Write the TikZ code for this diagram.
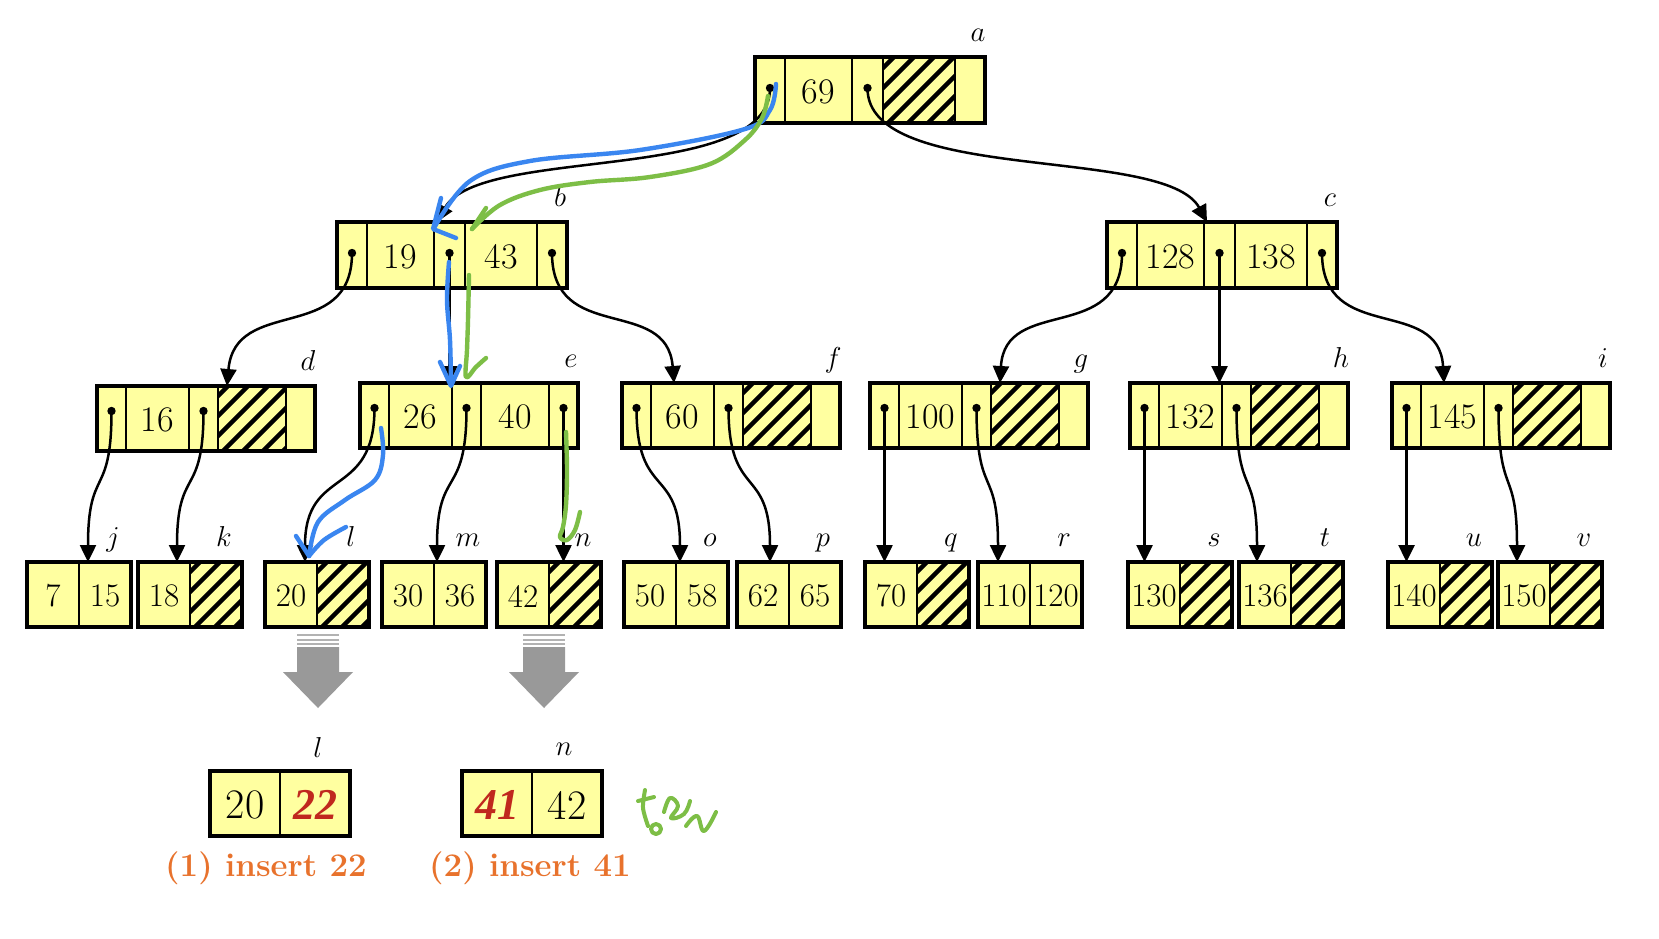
\documentclass[tikz,border=0pt]{standalone}
\usepackage{fontspec}
\newfontfamily\redfont{Liberation Serif}
\usetikzlibrary{arrows.meta}
\definecolor{nodefill}{HTML}{FFFFA0}
\definecolor{annblue}{HTML}{3A86F0}
\definecolor{anngreen}{HTML}{7DBE46}
\definecolor{insorange}{HTML}{E8722C}
\definecolor{insred}{HTML}{C0281E}
\definecolor{arrgray}{HTML}{999999}
\tikzset{
  frame/.style={draw=black, line width=2pt, inner sep=0pt, outer sep=0pt, anchor=north west},
  divline/.style={line width=1.1pt},
  hatchline/.style={line width=2.2pt},
  keytext/.style={inner sep=0pt, font=\fontsize{18}{20}\selectfont},
  leaftext/.style={inner sep=0pt, font=\fontsize{16.5}{18}\selectfont},
  bigtext/.style={inner sep=0pt, font=\fontsize{21}{23}\selectfont},
  redtext/.style={inner sep=0pt, text=insred, font=\redfont\bfseries\itshape\fontsize{22}{24}\selectfont},
  lbl/.style={inner sep=0pt, font=\fontsize{15.5}{17}\selectfont},
  conn/.style={line width=1.25pt, -{Triangle[length=8.5pt,width=8pt]}},
  ann/.style={line width=2.2pt, line cap=round, line join=round},
  caption/.style={inner sep=0pt, text=insorange, font=\bfseries\fontsize{16.5}{18}\selectfont},
}
\newcommand\hatchcell[4]{%
  \begin{scope}
    \clip (#1,#2) rectangle (#3,#4);
    \foreach \kk in {-80,-60,...,100} {\draw[hatchline] ({#1+(\kk)},{#4+5}) -- ({#1+(\kk)+95},{#4-90});}
  \end{scope}}
\newcommand\inode[6]{%
  \fill[nodefill] (#2,#3) rectangle ({#2+\bW},{#3+\bH});
  \ifnum#6=1 \hatchcell{#2+\bC}{#3}{#2+\bD}{#3+\bH}\fi
  \foreach \cc in {\bA,\bB,\bC,\bD} {\draw[divline] ({#2+\cc},#3) -- ({#2+\cc},{#3+\bH});}
  \node[frame, minimum width={\bW*0.5pt}, minimum height={\bH*0.5pt}] (#1) at (#2,#3) {};
  \node[keytext] at ({#2+(\bA+\bB)/2},{#3+\bH/2+1.5}) {#4};
  \node[keytext] at ({#2+(\bC+\bD)/2},{#3+\bH/2+1.5}) {#5};
  \coordinate (#1-p0) at ({#2+\bA/2},{#3+\dotdy});
  \coordinate (#1-p1) at ({#2+(\bB+\bC)/2},{#3+\dotdy});
  \coordinate (#1-p2) at ({#2+(\bD+\bW)/2},{#3+\dotdy});
  \fill (#1-p0) circle (2.1pt);
  \fill (#1-p1) circle (2.1pt);
  \ifnum#6=0 \fill (#1-p2) circle (2.1pt);\fi
  \node[lbl, anchor=base] (#1-lbl) at ({#2+\bW-7},{#3-16}) {$#1$};
}
\newcommand\leaf[5]{%
  \fill[nodefill] (#2,562) rectangle ({#2+104},627);
  \ifnum#5=1 \hatchcell{#2+52}{562}{#2+104}{627}\fi
  \draw[divline] ({#2+52},562) -- ({#2+52},627);
  \node[frame, line width=1.6pt, minimum width=52pt, minimum height=32.5pt] (#1) at (#2,562) {};
  \node[leaftext] at ({#2+26},596) {#3};
  \node[leaftext] at ({#2+78},596) {#4};
  \node[lbl, anchor=base] (#1-lbl) at ({#2+86},546) {$#1$};
}
\begin{document}
\begin{tikzpicture}[x=0.5pt,y=-0.5pt]
\fill[white] (0,0) rectangle (1659,938);
\useasboundingbox (0,0) rectangle (1659,938);
% level 1-2 internal nodes
\def\bA{30}\def\bB{97}\def\bC{128}\def\bD{200}\def\bW{230}\def\bH{66}\def\dotdy{31}
\inode{a}{755}{57}{69}{}{1}
\inode{b}{337}{222}{19}{43}{0}
\inode{c}{1107}{222}{128}{138}{0}
% level 3 internal nodes
\def\bA{29}\def\bB{92}\def\bC{121}\def\bD{189}\def\bW{218}\def\bH{65}\def\dotdy{25}
\inode{d}{97}{386}{16}{}{1}
\inode{e}{360}{383}{26}{40}{0}
\inode{f}{622}{383}{60}{}{1}
\inode{g}{870}{383}{100}{}{1}
\inode{h}{1130}{383}{132}{}{1}
\inode{i}{1392}{383}{145}{}{1}
% leaves
\leaf{j}{27}{7}{15}{0}
\leaf{k}{138}{18}{}{1}
\leaf{l}{265}{20}{}{1}
\leaf{m}{382}{30}{36}{0}
\leaf{n}{497}{42}{}{1}
\leaf{o}{624}{50}{58}{0}
\leaf{p}{737}{62}{65}{0}
\leaf{q}{865}{70}{}{1}
\leaf{r}{978}{110}{120}{0}
\leaf{s}{1128}{130}{}{1}
\leaf{t}{1239}{136}{}{1}
\leaf{u}{1388}{140}{}{1}
\leaf{v}{1498}{150}{}{1}
% entry points
\path (b.north west) ++(100,0) coordinate (b-in);
\path (c.north west) ++(100,0) coordinate (c-in);
\path (d.north west) ++(130,0) coordinate (d-in);
\path (f.north west) ++(52,0) coordinate (f-in);
\path (g.north west) ++(130,0) coordinate (g-in);
\path (i.north west) ++(52,0) coordinate (i-in);
\path (j.north west) ++(61,0) coordinate (j-in);
\path (k.north west) ++(39,0) coordinate (k-in);
\path (l.north west) ++(40,0) coordinate (l-in);
\path (m.north west) ++(55,0) coordinate (m-in);
\path (o.north west) ++(56,0) coordinate (o-in);
\path (p.north west) ++(33,0) coordinate (p-in);
\path (r.north west) ++(20,0) coordinate (r-in);
\path (t.north west) ++(18,0) coordinate (t-in);
\path (v.north west) ++(19,0) coordinate (v-in);
% connectors
\draw[conn] (a-p0) .. controls (770,185) and (480,145) .. (b-in);
\draw[conn] (a-p1) .. controls (867,185) and (1165,145) .. (c-in);
\draw[conn] (b-p0) .. controls (352,345) and (235,295) .. (d-in);
\draw[conn] (b-p1) -- (b-p1 |- e.north);
\draw[conn] (b-p2) .. controls (552,345) and (667,295) .. (f-in);
\draw[conn] (c-p0) .. controls (1122,345) and (1005,295) .. (g-in);
\draw[conn] (c-p1) -- (c-p1 |- h.north);
\draw[conn] (c-p2) .. controls (1322,345) and (1439,295) .. (i-in);
\draw[conn] (d-p0) .. controls (111.5,500) and (88,465) .. (j-in);
\draw[conn] (d-p1) .. controls (203.5,500) and (177,465) .. (k-in);
\draw[conn] (e-p0) .. controls (374.5,500) and (305,465) .. (l-in);
\draw[conn] (e-p1) .. controls (466.5,500) and (437,465) .. (m-in);
\draw[conn] (e-p2) -- (e-p2 |- n.north);
\draw[conn] (f-p0) .. controls (636.5,500) and (680,465) .. (o-in);
\draw[conn] (f-p1) .. controls (728.5,500) and (770,465) .. (p-in);
\draw[conn] (g-p0) -- (g-p0 |- q.north);
\draw[conn] (g-p1) .. controls (976.5,500) and (998,465) .. (r-in);
\draw[conn] (h-p0) -- (h-p0 |- s.north);
\draw[conn] (h-p1) .. controls (1236.5,500) and (1257,465) .. (t-in);
\draw[conn] (i-p0) -- (i-p0 |- u.north);
\draw[conn] (i-p1) .. controls (1498.5,500) and (1517,465) .. (v-in);
% gray arrows
\foreach \cx in {318,544} {
  \fill[arrgray!75] ({\cx-21},634) rectangle ({\cx+21},636);
  \fill[arrgray!75] ({\cx-21},638.5) rectangle ({\cx+21},640.5);
  \fill[arrgray!75] ({\cx-21},643) rectangle ({\cx+21},645);
  \fill[arrgray] ({\cx-21},647) -- ({\cx+21},647) -- ({\cx+21},672) -- ({\cx+35},672)
     -- (\cx,708) -- ({\cx-35},672) -- ({\cx-21},672) -- cycle;
}
% result leaves
\fill[nodefill] (210,771) rectangle (350,836);
\draw[divline] (280,771) -- (280,836);
\node[frame, line width=1.6pt, minimum width=70pt, minimum height=32.5pt] (l2) at (210,771) {};
\node[bigtext] at (245,805) {20};
\node[redtext] at (315,805) {22};
\node[lbl, anchor=base] (l2-lbl) at (318,757) {$l$};
\fill[nodefill] (462,771) rectangle (602,836);
\draw[divline] (532,771) -- (532,836);
\node[frame, line width=1.6pt, minimum width=70pt, minimum height=32.5pt] (n2) at (462,771) {};
\node[redtext] at (497,805) {41};
\node[bigtext] at (567,805) {42};
\node[lbl, anchor=base] (n2-lbl) at (564,755) {$n$};
\node[caption] (cap1) at (266,868) {(1) insert 22};
\node[caption] (cap2) at (530,868) {(2) insert 41};
% blue hand annotations
\draw[ann, annblue] plot[smooth, tension=0.6] coordinates {(776,84) (770,110) (745,129) (640,150) (530,161) (470,181) (434,228)};
\draw[ann, annblue] (441,198) -- (433,229) -- (456,238);
\draw[ann, annblue] plot[smooth, tension=0.6] coordinates {(449,262) (447,300) (450,340) (451,384)};
\draw[ann, annblue] (440,362) -- (451,386) -- (460,366);
\draw[ann, annblue] plot[smooth, tension=0.6] coordinates {(381,428) (383,455) (375,480) (345,500) (318,522) (309,556)};
\draw[ann, annblue] (296,536) -- (309,556);
\draw[ann, annblue] plot[smooth, tension=0.6] coordinates {(309,556) (324,540) (346,527)};
% green hand annotations
\draw[ann, anngreen] plot[smooth, tension=0.6] coordinates {(768,96) (762,118) (745,140) (710,164) (650,177) (590,182) (540,190) (500,205) (472,229)};
\draw[ann, anngreen] (472,229) -- (486,208);
\draw[ann, anngreen] plot[smooth, tension=0.6] coordinates {(469,275) (468,320) (467,350) (466,377) (476,367) (486,358)};
\draw[ann, anngreen] plot[smooth, tension=0.6] coordinates {(566,432) (567,470) (566,505) (563,527) (560,537) (567,540) (575,530) (580,512)};
% green scribble
\draw[ann, anngreen, line width=2pt] (638,801) -- (654,797);
\draw[ann, anngreen, line width=2pt] plot[smooth] coordinates {(645,790) (643,808) (648,826)};
\draw[ann, anngreen, line width=2pt] (656,829) circle (5);
\draw[ann, anngreen, line width=2pt] plot[smooth, tension=0.7] coordinates {(664,812) (670,798) (678,806) (671,818) (684,814) (690,801)};
\draw[ann, anngreen, line width=2pt] plot[smooth, tension=0.7] coordinates {(686,826) (697,816) (704,831) (716,812)};
\end{tikzpicture}
\end{document}
